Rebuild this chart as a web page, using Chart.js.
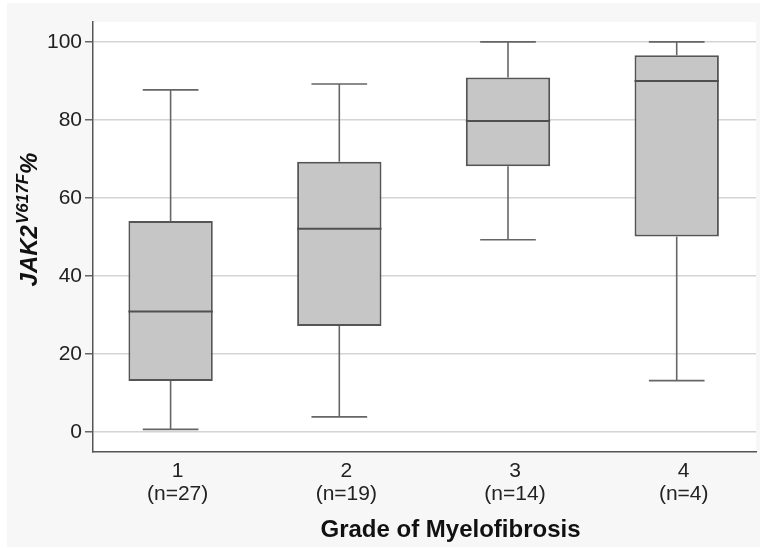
<!DOCTYPE html>
<html>
<head>
<meta charset="utf-8">
<script src="https://cdn.jsdelivr.net/npm/chart.js@4.4.0/dist/chart.umd.min.js"></script>
<style>
  body { margin: 0; background: #fff; }
</style>
</head>
<body>
<canvas id="boxChart" width="760" height="548"></canvas>
<script>
// data
var grades = [1, 2, 3, 4];
var counts = ['(n=27)', '(n=19)', '(n=14)', '(n=4)'];
var whiskerLow = [0.7, 3.9, 49.3, 13.2];
var q1 = [13.1, 27.2, 68.1, 50.1];
var median = [30.9, 52.1, 79.7, 90.0];
var q3 = [54.1, 69.3, 90.9, 96.6];
var whiskerHigh = [87.7, 89.2, 100, 100];
var yTicks = [0, 20, 40, 60, 80, 100];

var FONT = "'Liberation Sans', Arial, sans-serif";
Chart.defaults.font.family = FONT;

var boxes = [];
for (var i = 0; i < grades.length; i++) {
    boxes.push({ x: grades[i], y: [q1[i], q3[i]] });
}

// grey panel + white plot area
var panelBg = {
    id: 'panelBg',
    beforeDraw: function(chart) {
        var ctx = chart.ctx, a = chart.chartArea;
        ctx.save();
        ctx.fillStyle = '#f7f7f7';
        ctx.fillRect(7, 3, chart.width - 7, chart.height - 4);
        ctx.fillStyle = '#ffffff';
        ctx.fillRect(a.left, a.top, a.right - a.left, a.bottom - a.top);
        ctx.restore();
    }
};

// whiskers, caps and median lines
var boxWhiskers = {
    id: 'boxWhiskers',
    afterDatasetsDraw: function(chart) {
        var ctx = chart.ctx, xs = chart.scales.x, ys = chart.scales.y;
        var bars = chart.getDatasetMeta(0).data;
        ctx.save();
        for (var i = 0; i < grades.length; i++) {
            var cx = xs.getPixelForValue(grades[i]);
            var capHalf = xs.getPixelForValue(grades[i] + 0.165) - cx;
            var yLo = ys.getPixelForValue(whiskerLow[i]);
            var yHi = ys.getPixelForValue(whiskerHigh[i]);
            var yQ1 = ys.getPixelForValue(q1[i]);
            var yQ3 = ys.getPixelForValue(q3[i]);
            ctx.strokeStyle = '#666666';
            ctx.lineWidth = 1.6;
            ctx.beginPath();
            ctx.moveTo(cx, yQ3); ctx.lineTo(cx, yHi);
            ctx.moveTo(cx - capHalf, yHi); ctx.lineTo(cx + capHalf, yHi);
            ctx.moveTo(cx, yQ1); ctx.lineTo(cx, yLo);
            ctx.moveTo(cx - capHalf, yLo); ctx.lineTo(cx + capHalf, yLo);
            ctx.stroke();

            var b = bars[i];
            var yMed = ys.getPixelForValue(median[i]);
            ctx.strokeStyle = '#505050';
            ctx.lineWidth = 2;
            ctx.beginPath();
            ctx.moveTo(b.x - b.width / 2, yMed);
            ctx.lineTo(b.x + b.width / 2, yMed);
            ctx.stroke();
        }
        ctx.restore();
    }
};

// axis titles (y one has a superscript)
var axisTitles = {
    id: 'axisTitles',
    afterDraw: function(chart) {
        var ctx = chart.ctx, a = chart.chartArea;
        ctx.save();
        ctx.fillStyle = '#111111';
        ctx.textBaseline = 'alphabetic';

        ctx.font = 'bold 24px ' + FONT;
        ctx.textAlign = 'center';
        ctx.fillText('Grade of Myelofibrosis', (a.left + a.right) / 2 + 26, a.bottom + 85);

        var big = 'italic bold 24px ' + FONT;
        var small = 'italic bold 17px ' + FONT;
        ctx.font = big;
        var w1 = ctx.measureText('JAK2').width;
        var w3 = ctx.measureText('%').width;
        ctx.font = small;
        var w2 = ctx.measureText('V617F').width;
        var total = w1 + w2 + w3;

        ctx.translate(37, (a.top + a.bottom) / 2 - 17);
        ctx.rotate(-Math.PI / 2);
        ctx.textAlign = 'left';
        var x0 = -total / 2;
        ctx.font = big;
        ctx.fillText('JAK2', x0, 0);
        ctx.font = small;
        ctx.fillText('V617F', x0 + w1 + 1, -9);
        ctx.font = big;
        ctx.fillText('%', x0 + w1 + w2 + 1, 0);
        ctx.restore();
    }
};

var ctx = document.getElementById('boxChart').getContext('2d');
var myChart = new Chart(ctx, {
    type: 'bar',
    data: {
        datasets: [{
            label: 'JAK2 V617F %',
            data: boxes,
            backgroundColor: '#c6c6c6',
            borderColor: '#555555',
            borderWidth: 2,
            borderSkipped: false,
            barPercentage: 0.5,
            categoryPercentage: 1.0
        }]
    },
    options: {
        responsive: false,
        animation: false,
        layout: { padding: { top: 22, right: 4, left: 0, bottom: 0 } },
        plugins: {
            legend: { display: false },
            tooltip: { enabled: false },
            title: { display: false }
        },
        scales: {
            x: {
                type: 'linear',
                offset: false,
                min: 0.54,
                max: 4.47,
                afterBuildTicks: function(scale) {
                    scale.ticks = grades.map(function(g) { return { value: g }; });
                },
                afterFit: function(scale) { scale.height = 96; },
                grid: { drawOnChartArea: false, drawTicks: false, offset: false },
                border: { display: true, color: '#555555', width: 1.5 },
                ticks: {
                    padding: 7,
                    labelOffset: 7,
                    color: '#222222',
                    font: { size: 21, lineHeight: 1.12 },
                    maxRotation: 0,
                    callback: function(value) {
                        var i = grades.indexOf(value);
                        return [String(value), counts[i]];
                    }
                }
            },
            y: {
                min: -5.1,
                max: 105.1,
                afterBuildTicks: function(scale) {
                    scale.ticks = yTicks.map(function(v) { return { value: v }; });
                },
                afterFit: function(scale) { scale.width = 93; },
                grid: { color: '#d4d4d4', lineWidth: 1.5, tickColor: '#666666', tickLength: 8 },
                border: { display: true, color: '#555555', width: 1.5 },
                ticks: {
                    padding: 3,
                    color: '#222222',
                    font: { size: 21 }
                }
            }
        }
    },
    plugins: [panelBg, boxWhiskers, axisTitles]
});
</script>
</body>
</html>
